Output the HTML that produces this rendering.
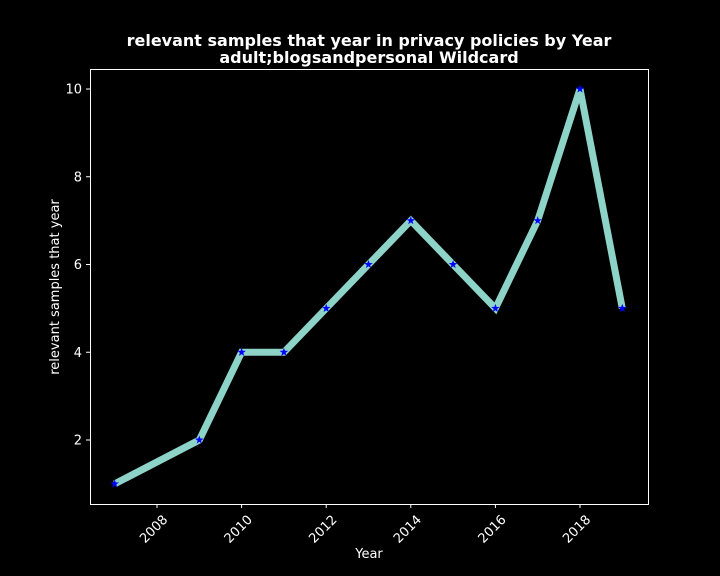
<!DOCTYPE html>
<html><head><meta charset="utf-8"><style>
body{margin:0;background:#000;}
svg{display:block;font-family:"DejaVu Sans","Liberation Sans",sans-serif;}
</style></head><body>
<svg id="chart" width="720" height="576" xmlns="http://www.w3.org/2000/svg">
<rect width="720" height="576" fill="#000"/>
<text x="369" y="46" fill="#fff" font-size="16" font-weight="bold" text-anchor="middle">relevant samples that year in privacy policies by Year</text>
<text x="369" y="63" fill="#fff" font-size="16" font-weight="bold" text-anchor="middle">adult;blogsandpersonal Wildcard</text>
<rect x="90.5" y="69.5" width="558" height="435" fill="none" stroke="#fff" stroke-width="1"/>
<g id="xt"></g>
<g id="yt"></g>
<text x="369" y="558" fill="#fff" font-size="13" text-anchor="middle">Year</text>
<text transform="translate(59,287) rotate(-90)" fill="#fff" font-size="13" text-anchor="middle">relevant samples that year</text>
<g id="series"></g>
</svg>
<script>
const years=[2007,2009,2010,2011,2012,2013,2014,2015,2016,2017,2018,2019];
const values=[1,2,4,4,5,6,7,6,5,7,10,5];
const xTicks=[2008,2010,2012,2014,2016,2018];
const yTicks=[2,4,6,8,10];
const NS="http://www.w3.org/2000/svg";
function X(y){return 157+(y-2008)*42.3;}
function Y(v){return 440-(v-2)*43.875;}
function mk(t,a,p){const e=document.createElementNS(NS,t);for(const k in a)e.setAttribute(k,a[k]);p.appendChild(e);return e;}
const xt=document.getElementById('xt'),yt=document.getElementById('yt'),s=document.getElementById('series');
xTicks.forEach(t=>{const x=X(t);
 const l=mk('line',{x1:x,x2:x,y1:504,y2:508,stroke:'#fff'},xt);
 
 
 const tx=mk('text',{x:0,y:0,fill:'#fff','font-size':13,'text-anchor':'end',transform:`translate(${x+4},${513}) rotate(-45)`,dy:'0.8em'},xt);
 tx.textContent=t;
 
 
});
yTicks.forEach(t=>{const y=Y(t);
 const l=mk('line',{x1:86,x2:90,y1:y,y2:y,stroke:'#fff'},yt);
 
 
 const tx=mk('text',{x:82,y:y+4.5,fill:'#fff','font-size':13,'text-anchor':'end'},yt);
 tx.textContent=t;
 
 
});
const pts=years.map((y,i)=>X(y)+','+Y(values[i])).join(' ');
const pl=mk('polyline',{points:pts,fill:'none',stroke:'#8dd3c7','stroke-width':7,'stroke-linejoin':'miter'},s);


function star(cx,cy,r){let p=[];for(let i=0;i<10;i++){const a=-Math.PI/2+i*Math.PI/5,rr=i%2?r*0.4:r;p.push((cx+rr*Math.cos(a)).toFixed(1)+','+(cy+rr*Math.sin(a)).toFixed(1));}return p.join(' ');}
years.forEach((y,i)=>{
 const m=mk('polygon',{points:star(X(y),Y(values[i]),4.5),fill:'#0000ff'},s);
 
 
});
</script>
</body></html>
